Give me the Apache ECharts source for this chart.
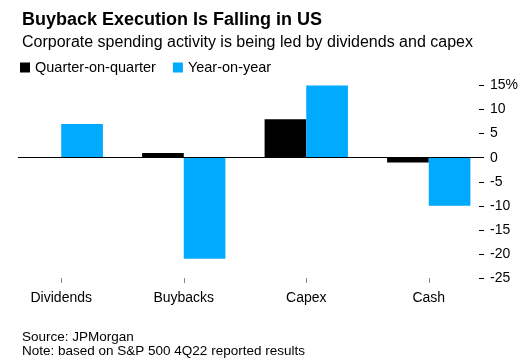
<!DOCTYPE html>
<html>
<head>
<meta charset="utf-8">
<script src="https://cdn.jsdelivr.net/npm/echarts@6/dist/echarts.min.js"></script>
<style>
html,body{margin:0;padding:0;background:#fff;}
#chart{width:530px;height:364px;}
</style>
</head>
<body>
<div id="chart"></div>
<script>
const categories = ['Dividends', 'Buybacks', 'Capex', 'Cash'];
const quarterOnQuarter = [0, 1, 8, -1];
const yearOnYear = [7, -21, 15, -10];
const yTicks = { min: -25, max: 15, interval: 5 };
const seriesNames = ['Quarter-on-quarter', 'Year-on-year'];

const FONT = "'Liberation Sans', Arial, Helvetica, sans-serif";
const chart = echarts.init(document.getElementById('chart'), null, { renderer: 'canvas' });

chart.setOption({
  animation: false,
  textStyle: { fontFamily: FONT, color: '#000' },
  title: [
    { text: 'Buyback Execution Is Falling in US', left: 17, top: 6,
      textStyle: { fontFamily: FONT, fontSize: 18, fontWeight: 'bold', color: '#000' } },
    { text: 'Corporate spending activity is being led by dividends and capex', left: 17, top: 30,
      textStyle: { fontFamily: FONT, fontSize: 16, fontWeight: 'normal', color: '#000' } },
    { text: 'Source: JPMorgan\nNote: based on S&P 500 4Q22 reported results', left: 17, top: 325,
      textStyle: { fontFamily: FONT, fontSize: 13.5, fontWeight: 'normal', color: '#000', lineHeight: 14 } }
  ],
  legend: {
    left: 15, top: 55,
    icon: 'rect', itemWidth: 10, itemHeight: 10, itemGap: 17,
    textStyle: { fontFamily: FONT, fontSize: 14.5, color: '#000' },
    data: seriesNames
  },
  grid: { left: 0, right: 40, top: 85.5, bottom: 86, containLabel: false },
  xAxis: {
    type: 'category', data: categories,
    axisLine: { show: false, onZero: false },
    axisTick: { show: true, alignWithLabel: true, length: 5, lineStyle: { color: '#888' } },
    axisLabel: { fontFamily: FONT, fontSize: 14, color: '#000', margin: 13 }
  },
  yAxis: {
    type: 'value', position: 'right', offset: -6,
    min: yTicks.min, max: yTicks.max, interval: yTicks.interval,
    splitLine: { show: false },
    axisLine: { show: false },
    axisTick: { show: true, inside: true, length: 5, lineStyle: { color: '#000' } },
    axisLabel: { fontFamily: FONT, fontSize: 14, color: '#000', margin: 6,
      formatter: v => (v === yTicks.max ? v + '%' : String(v)) }
  },
  series: [
    { name: seriesNames[0], type: 'bar', data: quarterOnQuarter, barGap: 0, barCategoryGap: '32%',
      itemStyle: { color: '#000000' },
      markLine: { silent: true, symbol: 'none', label: { show: false },
        lineStyle: { color: '#000', width: 1, type: 'solid' },
        data: [[{ yAxis: 0, x: 18 }, { yAxis: 0, x: 484 }]] } },
    { name: seriesNames[1], type: 'bar', data: yearOnYear, barGap: 0, barCategoryGap: '32%',
      itemStyle: { color: '#00aaff' } }
  ]
});
</script>
</body>
</html>
